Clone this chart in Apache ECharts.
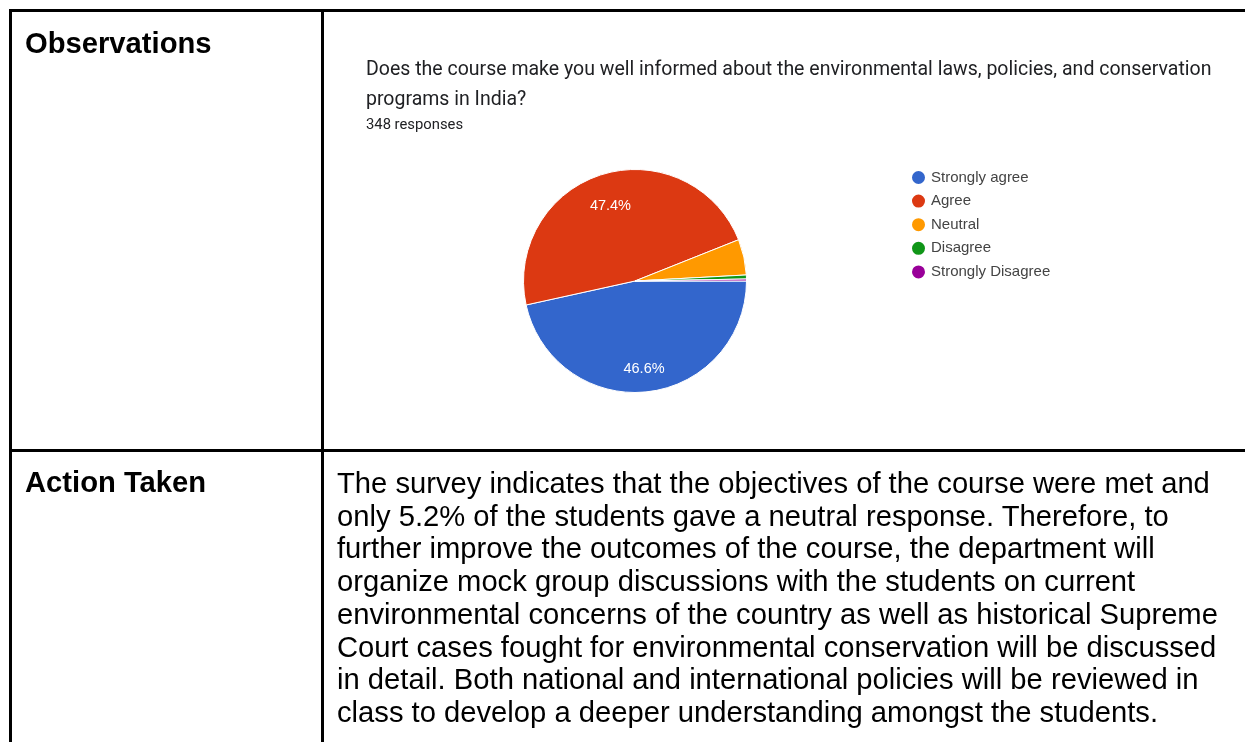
<!DOCTYPE html>
<html>
<head>
<meta charset="utf-8">
<script src="https://cdn.jsdelivr.net/npm/echarts@6/dist/echarts.min.js"></script>
<style>
  html, body { margin: 0; padding: 0; background: #fff; }
  body { width: 1245px; height: 742px; position: relative; overflow: hidden; font-family: "Liberation Sans", Arial, sans-serif; }
  #chart { position: absolute; left: 0; top: 0; width: 1245px; height: 742px; }
  .ln { position: absolute; background: #000; z-index: 2; }
  .txt { position: absolute; z-index: 2; font-size: 29.2px; line-height: 32.7px; color: #000; white-space: nowrap; }
  .b { font-weight: bold; }
</style>
</head>
<body>
<div id="chart"></div>
<div class="ln" style="left:9px;top:9px;width:1236px;height:3px;"></div>
<div class="ln" style="left:9px;top:9px;width:3px;height:733px;"></div>
<div class="ln" style="left:321px;top:9px;width:3px;height:733px;"></div>
<div class="ln" style="left:9px;top:449px;width:1236px;height:3px;"></div>
<div class="txt b" style="left:25px;top:27px;">Observations</div>
<div class="txt b" style="left:25px;top:466px;">Action Taken</div>
<div class="txt" id="para" style="left:337px;top:467px;"></div>
<script>
const titleLines = ['Does the course make you well informed about the environmental laws, policies, and conservation', 'programs in India?'];
const subtitle = '348 responses';
const categories = ['Strongly agree', 'Agree', 'Neutral', 'Disagree', 'Strongly Disagree'];
const counts = [162, 165, 18, 2, 1];
const colors = ['#3366cc', '#dc3912', '#ff9900', '#109618', '#990099'];
const paragraphLines = [
  'The survey indicates that the objectives of the course were met and',
  'only 5.2% of the students gave a neutral response. Therefore, to',
  'further improve the outcomes of the course, the department will',
  'organize mock group discussions with the students on current',
  'environmental concerns of the country as well as historical Supreme',
  'Court cases fought for environmental conservation will be discussed',
  'in detail. Both national and international policies will be reviewed in',
  'class to develop a deeper understanding amongst the students.'
];

const para = document.getElementById('para');
paragraphLines.forEach((l, i) => {
  if (i) para.appendChild(document.createElement('br'));
  para.appendChild(document.createTextNode(l));
});

const pieData = categories.map((c, i) => ({ name: c, value: counts[i], itemStyle: { color: colors[i] } }));
const labelData = categories.map((c, i) => ({ name: c, value: counts[i] }));
const center = [635, 281];
const R = 111.5;

const chart = echarts.init(document.getElementById('chart'), null, { renderer: 'canvas' });
chart.setOption({
  animation: false,
  title: [
    {
      text: titleLines.join('\n'),
      left: 366, top: 55,
      padding: 0,
      textStyle: { fontFamily: 'Roboto', fontSize: 19.5, fontWeight: 'normal', color: '#202124', lineHeight: 30 }
    },
    {
      text: subtitle,
      left: 366, top: 116.5,
      padding: 0,
      textStyle: { fontFamily: 'Roboto', fontSize: 14.8, fontWeight: 'normal', color: '#202124', lineHeight: 17 }
    }
  ],
  legend: {
    orient: 'vertical',
    left: 910, top: 169,
    padding: 0,
    icon: 'circle',
    itemWidth: 15, itemHeight: 15, itemGap: 6.6,
    data: categories,
    textStyle: { fontFamily: 'Arial', fontSize: 15, color: '#444', lineHeight: 17 }
  },
  series: [
    {
      type: 'pie',
      center: center,
      radius: [0, R],
      startAngle: 0,
      clockwise: true,
      avoidLabelOverlap: false,
      label: { show: false },
      labelLine: { show: false },
      itemStyle: { borderColor: '#fff', borderWidth: 1 },
      emphasis: { disabled: true },
      data: pieData
    },
    {
      type: 'pie',
      center: center,
      radius: [R / 2 - 6, R],
      startAngle: 0,
      clockwise: true,
      silent: true,
      percentPrecision: 4,
      avoidLabelOverlap: false,
      itemStyle: { color: 'rgba(0,0,0,0)', borderWidth: 0 },
      labelLine: { show: false },
      label: {
        show: true,
        position: 'inside',
        offset: [0, 4.9],
        color: '#fff',
        fontFamily: 'Arial',
        fontSize: 14.5,
        formatter: p => p.percent >= 10 ? p.percent.toFixed(1) + '%' : ''
      },
      emphasis: { disabled: true },
      data: labelData
    }
  ]
});
</script>
</body>
</html>
